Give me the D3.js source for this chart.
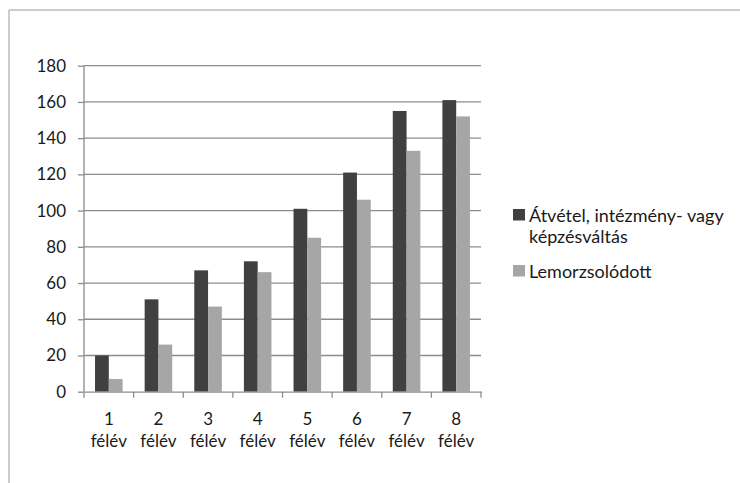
<!DOCTYPE html>
<html><head><meta charset="utf-8">
<script src="https://cdn.jsdelivr.net/npm/d3@7"></script>
<style>body{margin:0;background:#fff}svg{display:block;font-family:Lato,"Open Sans",sans-serif}</style>
</head><body>
<svg id="c" width="740" height="483"></svg>
<script>
const categories = ["1", "2", "3", "4", "5", "6", "7", "8"];
const categoryUnit = "félév";
const seriesNames = ["Átvétel, intézmény- vagy képzésváltás", "Lemorzsolódott"];
const transferValues = [20, 51, 67, 72, 101, 121, 155, 161];
const dropoutValues = [7, 26, 47, 66, 85, 106, 133, 152];
const yTicks = [0, 20, 40, 60, 80, 100, 120, 140, 160, 180];
const colors = ["#404040", "#a6a6a6"];

(function () {
const svg = d3.select("#c");
// frame
svg.append("line").attr("x1", 9).attr("x2", 740).attr("y1", 10).attr("y2", 10).attr("stroke", "#bdbdbd").attr("stroke-width", 1.5);
svg.append("line").attr("x1", 9).attr("x2", 9).attr("y1", 10).attr("y2", 483).attr("stroke", "#bdbdbd").attr("stroke-width", 1.5);

const pLeft = 84, pRight = 481, pTop = 65.7, pBottom = 391.7;
const x = d3.scaleBand().domain(categories).range([pLeft, pRight]).padding(0);
const y = d3.scaleLinear().domain([0, 180]).range([pBottom, pTop]);
const x1 = d3.scaleBand().domain([0, 1]).range([0, x.bandwidth()]).paddingOuter(0.8).paddingInner(0);

// gridlines
svg.append("g").selectAll("line").data(yTicks.filter(d => d > 0)).join("line")
  .attr("x1", pLeft).attr("x2", pRight).attr("y1", d => y(d)).attr("y2", d => y(d))
  .attr("stroke", "#8c8c8c").attr("stroke-width", 1.3);

// bars
const data = categories.map((c, i) => ({c, v: [transferValues[i], dropoutValues[i]]}));
const g = svg.append("g").selectAll("g").data(data).join("g").attr("transform", d => `translate(${x(d.c)},0)`);
g.selectAll("rect").data(d => d.v.map((v, k) => ({v, k}))).join("rect")
  .attr("x", d => x1(d.k)).attr("width", x1.bandwidth())
  .attr("y", d => y(d.v)).attr("height", d => y(0) - y(d.v))
  .attr("fill", d => colors[d.k]);

// y axis
const ya = svg.append("g").attr("transform", `translate(${pLeft},0)`)
  .call(d3.axisLeft(y).tickValues(yTicks).tickSize(6).tickPadding(12));
ya.select(".domain").attr("stroke", "#8c8c8c").attr("stroke-width", 1.3).attr("d", `M0,${pBottom}V${pTop}`);
ya.selectAll(".tick line").attr("stroke", "#8c8c8c").attr("stroke-width", 1.3);
ya.selectAll(".tick text").attr("font-size", 17).attr("fill", "#1a1a1a").attr("font-family", "Lato");

// x axis
const xa = svg.append("g").attr("transform", `translate(0,${pBottom})`)
  .call(d3.axisBottom(x).tickSize(0).tickFormat(""));
xa.select(".domain").attr("stroke", "#8c8c8c").attr("stroke-width", 1.3);
const tickXs = categories.map(c => x(c)).concat([pRight]);
xa.append("g").selectAll("line").data(tickXs).join("line")
  .attr("x1", d => d).attr("x2", d => d).attr("y1", 0).attr("y2", 6)
  .attr("stroke", "#8c8c8c").attr("stroke-width", 1.3);
const lbl = xa.append("g").selectAll("text").data(categories).join("text")
  .attr("x", d => x(d) + x.bandwidth() / 2).attr("text-anchor", "middle")
  .attr("font-size", 17).attr("fill", "#1a1a1a").attr("font-family", "Lato");
lbl.append("tspan").attr("x", d => x(d) + x.bandwidth() / 2).attr("y", 33.5).text(d => d);
lbl.append("tspan").attr("x", d => x(d) + x.bandwidth() / 2).attr("y", 55.5).text(categoryUnit);

// legend
const leg = svg.append("g");
const legLines = [["Átvétel, intézmény- vagy", "képzésváltás"], ["Lemorzsolódott"]];
const legY = [222, 278];
legLines.forEach((lines, i) => {
  leg.append("rect").attr("x", 513).attr("y", legY[i] - 13).attr("width", 12).attr("height", 11.5).attr("fill", colors[i]);
  const t = leg.append("text").attr("font-size", 18).attr("fill", "#1a1a1a").attr("font-family", "Lato");
  lines.forEach((l, j) => t.append("tspan").attr("x", 529).attr("y", legY[i] + j * 21).text(l));
});
})();
</script>
</body></html>
